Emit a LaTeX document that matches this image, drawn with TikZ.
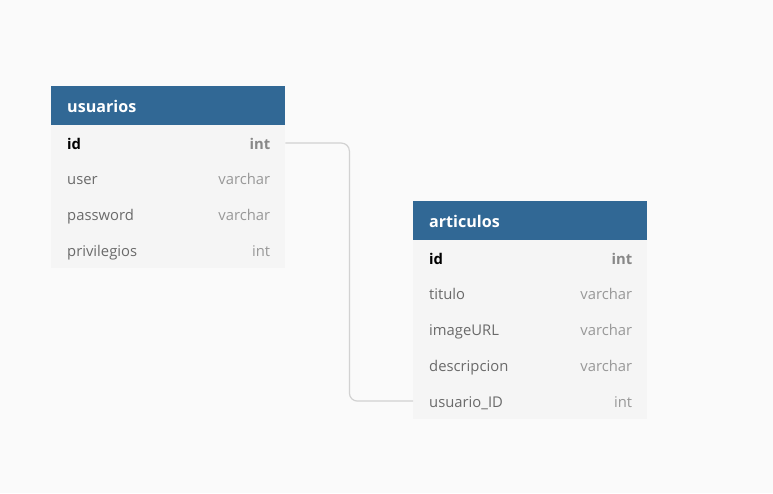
\documentclass[tikz,border=0pt]{standalone}
\usepackage{fontspec}
\setmainfont{Open Sans}
\definecolor{bg}{HTML}{FAFAFA}
\definecolor{hdrblue}{HTML}{316895}
\definecolor{rowfill}{HTML}{F5F5F5}
\definecolor{fieldgray}{HTML}{6A6A6A}
\definecolor{typegray}{HTML}{989898}
\definecolor{idtype}{HTML}{888888}
\definecolor{connc}{HTML}{D2D2D2}
\tikzset{
  x=1pt, y=-1pt,
  hdr/.style={fill=hdrblue, draw=none, anchor=north west, minimum width=234pt, minimum height=39pt,
    inner xsep=16pt, inner ysep=0pt, text width=202pt, align=left, text=white,
    font=\fontsize{16.1}{19}\selectfont\bfseries},
  rowbox/.style={fill=rowfill, draw=none, anchor=north west, minimum width=234pt, minimum height=35.75pt, inner sep=0pt},
  fname/.style={anchor=base west, inner sep=0pt, text=fieldgray, font=\fontsize{14.8}{17}\selectfont},
  ftype/.style={anchor=base east, inner sep=0pt, text=typegray, font=\fontsize{14.8}{17}\selectfont},
  pkname/.style={fname, text=black, font=\fontsize{14.8}{17}\selectfont\bfseries},
  pktype/.style={ftype, text=idtype, font=\fontsize{14.8}{17}\selectfont\bfseries},
  conn/.style={draw=connc, line width=1.2pt, rounded corners=8pt}
}
\begin{document}
\begin{tikzpicture}
\fill[bg] (0,0) rectangle (773,493);
\useasboundingbox (0,0) rectangle (773,493);
% usuarios
\node[hdr] (uh) at (51,87) {usuarios};
\node[rowbox] (u1) at (51,125) {};
\node[rowbox] (u2) at (51,160.75) {};
\node[rowbox] (u3) at (51,196.5) {};
\node[rowbox] (u4) at (51,232.25) {};
\fill[hdrblue] (51,86) rectangle (285,88);
\node[pkname] (u1n) at ([shift={(16,6)}]u1.west) {id};
\node[pktype] (u1t) at ([shift={(-15,6)}]u1.east) {int};
\node[fname] (u2n) at ([shift={(16,6)}]u2.west) {user};
\node[ftype] (u2t) at ([shift={(-15,6)}]u2.east) {varchar};
\node[fname] (u3n) at ([shift={(16,6)}]u3.west) {password};
\node[ftype] (u3t) at ([shift={(-15,6)}]u3.east) {varchar};
\node[fname] (u4n) at ([shift={(16,6)}]u4.west) {privilegios};
\node[ftype] (u4t) at ([shift={(-15,6)}]u4.east) {int};
% articulos
\node[hdr] (ah) at (413,202) {articulos};
\fill[hdrblue] (413,201) rectangle (647,203);
\node[rowbox] (a1) at (413,240) {};
\node[rowbox] (a2) at (413,275.75) {};
\node[rowbox] (a3) at (413,311.5) {};
\node[rowbox] (a4) at (413,347.25) {};
\node[rowbox] (a5) at (413,383) {};
\node[pkname] (a1n) at ([shift={(16,6)}]a1.west) {id};
\node[pktype] (a1t) at ([shift={(-15,6)}]a1.east) {int};
\node[fname] (a2n) at ([shift={(16,6)}]a2.west) {titulo};
\node[ftype] (a2t) at ([shift={(-15,6)}]a2.east) {varchar};
\node[fname] (a3n) at ([shift={(16,6)}]a3.west) {imageURL};
\node[ftype] (a3t) at ([shift={(-15,6)}]a3.east) {varchar};
\node[fname] (a4n) at ([shift={(16,6)}]a4.west) {descripcion};
\node[ftype] (a4t) at ([shift={(-15,6)}]a4.east) {varchar};
\node[fname] (a5n) at ([shift={(16,6)}]a5.west) {usuario\_ID};
\node[ftype] (a5t) at ([shift={(-15,6)}]a5.east) {int};
% connector
\draw[conn] (u1.east) -- ++(64,0) |- (a5.west);
\end{tikzpicture}
\end{document}
